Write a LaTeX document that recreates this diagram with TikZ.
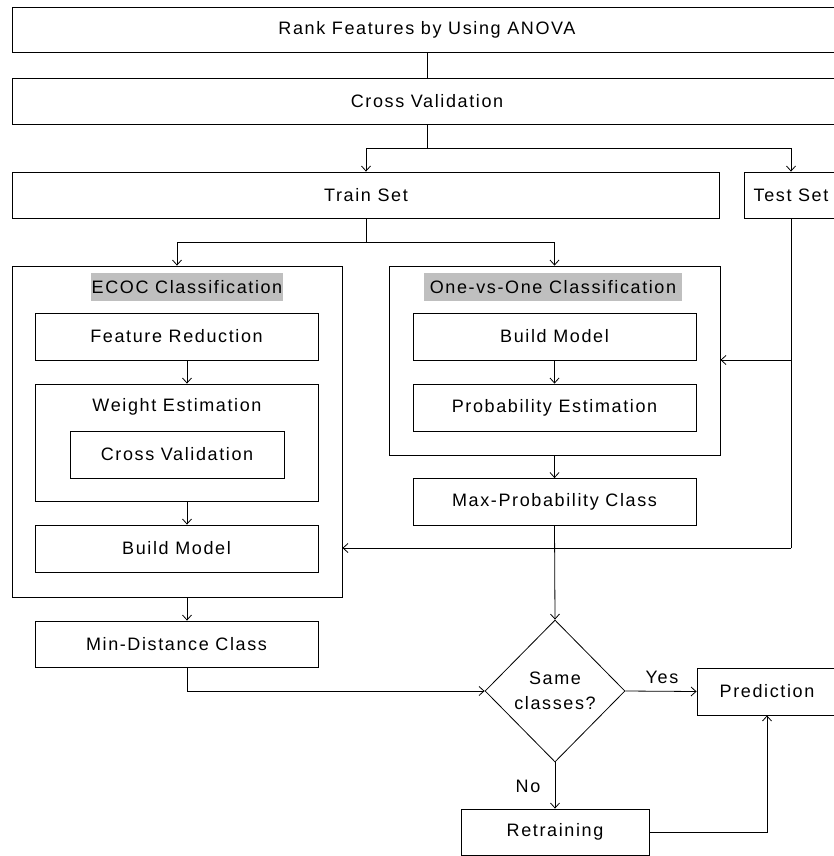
\documentclass[tikz,border=0pt]{standalone}
\usepackage{fontspec}
\setmainfont{Liberation Sans}[LetterSpace=9]
\usetikzlibrary{shapes.geometric,arrows.meta}
\newcommand\fsz{\fontsize{18}{25}\selectfont}
\begin{document}
\begin{tikzpicture}[x=1pt,y=-1pt,
  line/.style={line width=0.8pt, draw=black},
  arr/.style={line, -{Straight Barb[length=5pt,width=9pt]}},
  box/.style={draw=black, line width=0.8pt, inner sep=0pt, font=\fsz, fill=white},
  txt/.style={inner sep=0pt, font=\fsz},
  lab/.style={fill=black!25, inner sep=0pt, font=\fsz}]
\useasboundingbox (0,0) rectangle (834,856);
\clip (0,0) rectangle (834,856);
\fill[white] (0,0) rectangle (834,856);

% top boxes
\node[box, minimum width=830pt, minimum height=45pt] (rank) at (427,29.5) {Rank Features by Using ANOVA};
\node[box, minimum width=830pt, minimum height=46pt] (cv) at (427,101) {Cross Validation};
\node[box, minimum width=707pt, minimum height=46pt] (train) at (366,195) {Train Set};
\node[box, minimum width=94pt, minimum height=46pt] (test) at (791,195) {Test Set};

% ECOC
\node[box, minimum width=330pt, minimum height=331pt] (ecoc) at (177,431.5) {};
\node[lab, minimum width=192pt, minimum height=28pt] (ecoclab) at (187,287) {ECOC Classification};
\node[box, minimum width=283pt, minimum height=47pt] (fr) at (176.5,336.5) {Feature Reduction};
\node[box, minimum width=283pt, minimum height=117pt] (we) at (176.5,442.5) {};
\node[txt] (welab) at (177,407) {Weight Estimation};
\node[box, minimum width=214pt, minimum height=47pt] (icv) at (177,454.5) {Cross Validation};
\node[box, minimum width=283pt, minimum height=47pt] (ebm) at (176.5,548.5) {Build Model};
\node[box, minimum width=283pt, minimum height=46pt] (md) at (176.5,644) {Min-Distance Class};

% OvO
\node[box, minimum width=331pt, minimum height=189pt] (ovo) at (554.5,360.5) {};
\node[lab, minimum width=258pt, minimum height=28pt] (ovolab) at (553,287) {One-vs-One Classification};
\node[box, minimum width=283pt, minimum height=47pt] (obm) at (554.5,336.5) {Build Model};
\node[box, minimum width=283pt, minimum height=47pt] (pe) at (554.5,407.5) {Probability Estimation};
\node[box, minimum width=283pt, minimum height=47pt] (mp) at (554.5,502) {Max-Probability Class};

% decision and outputs
\node[draw=black, line width=0.8pt, diamond, aspect=1, minimum width=140pt, minimum height=142pt, inner sep=0pt, align=center, font=\fsz] (dec) at (555,691) {Same\\classes?};
\node[box, minimum width=140pt, minimum height=47pt] (pred) at (767,691.5) {Prediction};
\node[box, minimum width=188pt, minimum height=46pt] (retr) at (555,832) {Retraining};
\node[txt] (yes) at (662,677) {Yes};
\node[txt] (no) at (528,786) {No};

% coordinates
\coordinate (j1) at (427,148);
\coordinate (j2) at (366,242);
\coordinate (ex) at (187,0);
\coordinate (t1) at (791,360);
\coordinate (t2) at (791,548);

% connectors
\draw[line] (rank.south) -- (cv.north);
\draw[line] (cv.south) -- (j1);
\draw[arr] (j1) -| (train.north);
\draw[arr] (j1) -| (test.north);
\draw[line] (train.south) -- (j2);
\draw[arr] (j2) -| (ecoc.north);
\draw[arr] (j2) -| (ovo.north);

\draw[arr] (fr.south -| ex) -- (we.north -| ex);
\draw[arr] (we.south -| ex) -- (ebm.north -| ex);
\draw[arr] (ecoc.south -| ex) -- (md.north -| ex);

\draw[arr] (obm.south) -- (pe.north);
\draw[arr] (ovo.south) -- (mp.north);

\draw[line] (test.south) -- (t2);
\draw[arr] (t1) -- (t1 -| ovo.east);
\draw[arr] (t2) -- (t2 -| ecoc.east);

\draw[arr] (md.south -| ex) |- (dec.west);
\draw[arr] (mp.south) -- (dec.north);
\draw[arr] (dec.east) -- (pred.west);
\draw[arr] (dec.south) -- (retr.north);
\draw[arr] (retr.east) -| (pred.south);
\end{tikzpicture}
\end{document}
